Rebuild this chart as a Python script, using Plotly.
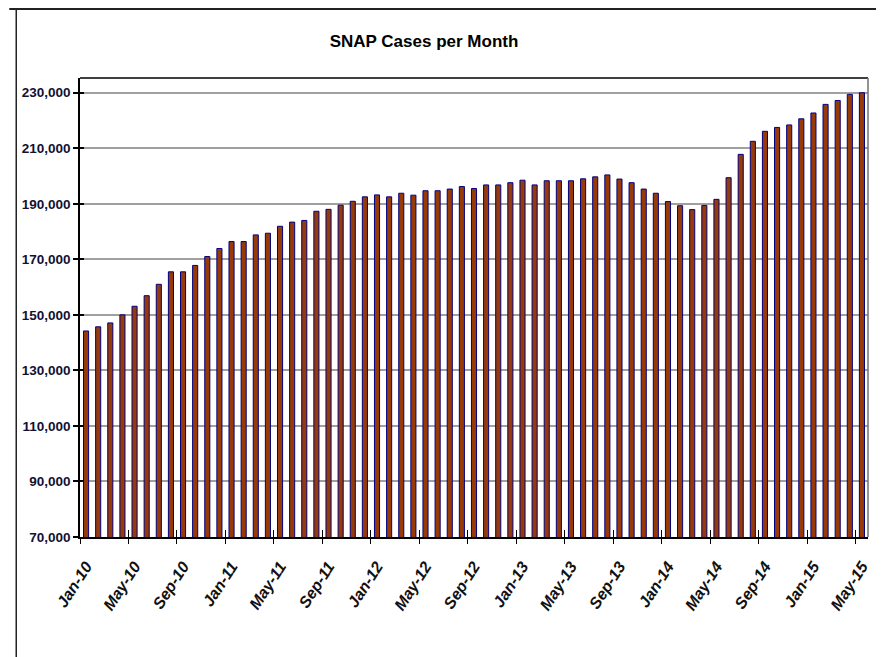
import plotly.graph_objects as go

months = ["Jan", "Feb", "Mar", "Apr", "May", "Jun", "Jul", "Aug", "Sep", "Oct", "Nov", "Dec"]
categories = [f"{m}-{y:02d}" for y in range(10, 16) for m in months][:65]

cases = [
    144200, 145700, 147100, 150000, 153100, 156900, 161000, 165500, 165500, 167800,
    171000, 173900, 176400, 176400, 178800, 179400, 181900, 183400, 184000, 187300,
    188000, 189500, 190900, 192500, 193200, 192500, 193800, 193100, 194700, 194700,
    195300, 196200, 195500, 196800, 196800, 197600, 198500, 196800, 198300, 198300,
    198300, 199000, 199700, 200400, 198900, 197600, 195300, 193800, 190800, 189300,
    187900, 189400, 191600, 199400, 207800, 212500, 216100, 217500, 218400, 220600,
    222700, 225800, 227200, 229400, 230000,
]

y_ticks = [70000, 90000, 110000, 130000, 150000, 170000, 190000, 210000, 230000]
label_step = 4

xpos = list(range(len(categories)))
label_pos = xpos[::label_step]
label_text = categories[::label_step]
boundary_pos = [p - 0.5 for p in label_pos]

# page has an 8px body margin: figure occupies page (8,8)-(884,657)
W, H = 876, 649
ML, MT, MR, MB = 72, 70, 13, 120
pw, ph = W - ML - MR, H - MT - MB

fig = go.Figure()
fig.add_trace(go.Bar(
    x=xpos, y=cases,
    marker=dict(color="#963a08", line=dict(color="#000080", width=1)),
    width=0.42,
    hoverinfo="skip",
))

FONT = "Liberation Sans, Arial, sans-serif"

fig.update_layout(
    width=W, height=H,
    margin=dict(l=ML, r=MR, t=MT, b=MB),
    paper_bgcolor="white", plot_bgcolor="white",
    showlegend=False,
    title=dict(
        text="<b>SNAP Cases per Month</b>",
        x=416 / W, xanchor="center", y=1 - 33 / H, yanchor="middle",
        font=dict(family=FONT, size=17, color="black"),
    ),
    xaxis=dict(
        range=[-0.5, len(categories) - 0.5],
        tickvals=label_pos, ticktext=[f"<b><i>{t}</i></b>" for t in label_text],
        tickangle=-57, ticks="", showgrid=False, ticklabelstandoff=12,
        showline=True, linecolor="black", linewidth=1.5,
        tickfont=dict(family=FONT, size=16, color="#111"),
        zeroline=False,
    ),
    xaxis2=dict(
        overlaying="x", anchor="y", side="bottom",
        range=[-0.5, len(categories) - 0.5],
        tickvals=boundary_pos, showticklabels=False,
        ticks="outside", ticklen=6, tickwidth=1, tickcolor="black",
        showgrid=False, showline=False, zeroline=False,
    ),
    xaxis3=dict(
        overlaying="x", anchor="y", side="bottom",
        range=[-0.5, len(categories) - 0.5],
        tickvals=boundary_pos, showticklabels=False,
        ticks="inside", ticklen=7, tickwidth=1, tickcolor="black",
        showgrid=False, showline=False, zeroline=False,
    ),
    yaxis=dict(
        range=[70000, 235300],
        tickvals=y_ticks, ticktext=[f"<b>{v:,}</b>" for v in y_ticks],
        ticks="outside", ticklen=5, tickwidth=1.5, tickcolor="black",
        showgrid=True, gridcolor="#a0a0a0", gridwidth=2,
        showline=True, linecolor="black", linewidth=1.5,
        tickfont=dict(family=FONT, size=13.5, color="#111133"),
        zeroline=False,
    ),
    yaxis2=dict(
        overlaying="y", anchor="x", side="left",
        range=[70000, 235300], tickvals=y_ticks, showticklabels=False,
        ticks="inside", ticklen=4, tickwidth=1.5, tickcolor="black",
        showgrid=False, showline=False, zeroline=False,
    ),
)

fig.add_trace(go.Scatter(x=[0], y=[None], xaxis="x2", yaxis="y", showlegend=False, hoverinfo="skip"))
fig.add_trace(go.Scatter(x=[0], y=[None], xaxis="x3", yaxis="y", showlegend=False, hoverinfo="skip"))
fig.add_trace(go.Scatter(x=[0], y=[None], xaxis="x", yaxis="y2", showlegend=False, hoverinfo="skip"))


def px_x(fx):
    return (fx - ML) / pw


def px_y(fy):
    return (H - MB - fy) / ph


shapes = [
    dict(type="line", xref="paper", yref="paper", x0=0, x1=1, y0=1, y1=1, line=dict(color="black", width=1.5)),
    dict(type="line", xref="paper", yref="paper", x0=1, x1=1, y0=0, y1=1, line=dict(color="#707070", width=1.5)),
    # outer frame: top and left
    dict(type="line", xref="paper", yref="paper", x0=px_x(1), x1=px_x(W),
         y0=px_y(1), y1=px_y(1), line=dict(color="#222", width=2)),
    dict(type="line", xref="paper", yref="paper", x0=px_x(8), x1=px_x(8),
         y0=px_y(1), y1=px_y(H), line=dict(color="#222", width=1.5)),
]
fig.update_layout(shapes=shapes)

fig.write_html("out.html")
